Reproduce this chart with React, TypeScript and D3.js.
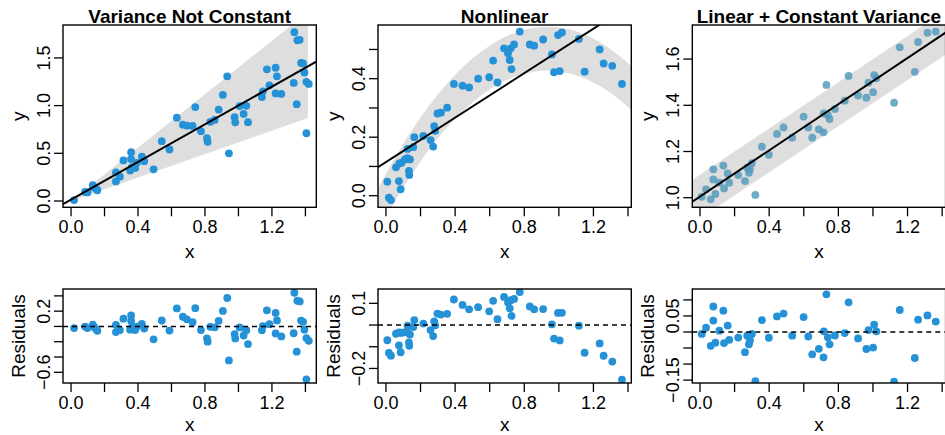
import * as d3 from "d3";

// ---- data ----
const p1X = [0.018, 0.084, 0.098, 0.13, 0.14, 0.154, 0.157, 0.268, 0.268, 0.292, 0.313, 0.359, 0.359, 0.353, 0.363, 0.383, 0.393, 0.423, 0.437, 0.493, 0.542, 0.588, 0.632, 0.668, 0.692, 0.726, 0.742, 0.776, 0.812, 0.816, 0.832, 0.858, 0.882, 0.907, 0.933, 0.943, 0.977, 0.981, 1.007, 1.031, 1.047, 1.057, 1.14, 1.146, 1.17, 1.185, 1.222, 1.23, 1.222, 1.256, 1.33, 1.334, 1.348, 1.352, 1.366, 1.374, 1.386, 1.394, 1.406, 1.42, 1.406];
const p1Y = [0.01, 0.095, 0.09, 0.165, 0.139, 0.122, 0.112, 0.3, 0.205, 0.255, 0.425, 0.512, 0.44, 0.32, 0.355, 0.345, 0.4, 0.465, 0.418, 0.332, 0.627, 0.54, 0.874, 0.8, 0.79, 0.787, 0.985, 0.732, 0.66, 0.62, 0.83, 0.85, 0.958, 1.112, 1.307, 0.5, 0.878, 0.825, 0.995, 0.913, 0.998, 0.826, 1.09, 1.15, 1.38, 1.213, 1.397, 1.307, 1.128, 1.123, 1.238, 1.77, 1.015, 1.685, 1.69, 1.447, 1.442, 1.347, 1.249, 1.227, 0.71];

const p2X = [0.008, 0.017, 0.029, 0.058, 0.075, 0.085, 0.077, 0.09, 0.11, 0.123, 0.139, 0.133, 0.135, 0.125, 0.158, 0.164, 0.216, 0.258, 0.273, 0.279, 0.285, 0.298, 0.318, 0.354, 0.393, 0.443, 0.481, 0.533, 0.597, 0.62, 0.645, 0.683, 0.706, 0.716, 0.726, 0.722, 0.741, 0.774, 0.832, 0.857, 0.909, 0.96, 0.972, 1.005, 0.995, 1.018, 1.116, 1.149, 1.236, 1.259, 1.309, 1.365];
const p2Y = [0.048, -0.007, -0.015, 0.097, 0.05, 0.022, 0.11, 0.113, 0.124, 0.128, 0.124, 0.085, 0.071, 0.16, 0.166, 0.2, 0.204, 0.19, 0.168, 0.238, 0.222, 0.281, 0.284, 0.301, 0.382, 0.376, 0.37, 0.4, 0.405, 0.462, 0.387, 0.504, 0.487, 0.464, 0.433, 0.504, 0.517, 0.561, 0.517, 0.513, 0.534, 0.483, 0.422, 0.426, 0.549, 0.558, 0.536, 0.424, 0.5, 0.452, 0.444, 0.382];

const p3X = [0.01, 0.035, 0.062, 0.077, 0.077, 0.089, 0.112, 0.135, 0.139, 0.16, 0.169, 0.221, 0.26, 0.273, 0.283, 0.289, 0.3, 0.32, 0.358, 0.398, 0.445, 0.483, 0.533, 0.599, 0.626, 0.649, 0.687, 0.714, 0.716, 0.731, 0.739, 0.749, 0.78, 0.837, 0.859, 0.914, 0.962, 0.974, 1.001, 1.007, 1.02, 1.122, 1.155, 1.242, 1.261, 1.315, 1.363];
const p3Y = [1.004, 1.036, 0.993, 1.123, 1.079, 1.016, 1.065, 1.139, 1.04, 1.105, 1.065, 1.098, 1.072, 1.13, 1.108, 1.123, 1.149, 1.012, 1.221, 1.186, 1.276, 1.304, 1.26, 1.351, 1.304, 1.26, 1.296, 1.283, 1.365, 1.488, 1.358, 1.341, 1.384, 1.42, 1.527, 1.442, 1.433, 1.498, 1.457, 1.531, 1.517, 1.411, 1.651, 1.545, 1.674, 1.714, 1.719];

const titles = ["Variance Not Constant", "Nonlinear", "Linear + Constant Variance"];
const fitIntercept = [0.014, 0.115, 1.005];
const fitSlope = [0.987, 0.38, 0.5];

// grey bands
const band1X = [0, 1.415];
const band1Lo = [0, 0.87];
const band1Hi = [0, 1.98];
const band2X = [-0.05, 0, 0.1, 0.2, 0.3, 0.4, 0.5, 0.6, 0.7, 0.8, 0.9, 1.0, 1.1, 1.2, 1.3, 1.4, 1.45];
const band2Lo = [-0.13, -0.075, 0.027, 0.117, 0.196, 0.263, 0.319, 0.363, 0.396, 0.417, 0.427, 0.425, 0.412, 0.387, 0.351, 0.303, 0.275];
const band2Hi = [0.02, 0.075, 0.177, 0.267, 0.346, 0.413, 0.469, 0.513, 0.546, 0.567, 0.577, 0.575, 0.562, 0.537, 0.501, 0.453, 0.425];
const band3X = [-0.05, 1.45];
const band3Lo = [0.885, 1.635];
const band3Hi = [1.075, 1.825];

const xTicks = [0, 0.2, 0.4, 0.6, 0.8, 1.0, 1.2, 1.4];
const xLabels = [0, 0.4, 0.8, 1.2];
const yTicksTop = [[0, 0.5, 1, 1.5], [0, 0.1, 0.2, 0.3, 0.4, 0.5], [1, 1.2, 1.4, 1.6]];
const yLabelsTop = [[0, 0.5, 1, 1.5], [0, 0.2, 0.4], [1, 1.2, 1.4, 1.6]];
const resTicks = [[-0.6, -0.4, -0.2, 0, 0.2, 0.4], [-0.2, -0.1, 0, 0.1], [-0.15, -0.1, -0.05, 0, 0.05, 0.1]];
const resLabels = [[-0.6, 0.2], [-0.2, 0.1], [-0.15, 0.05]];
const resFormat = [".1f", ".1f", ".2f"];

const xDomains = [[-0.048, 1.465], [-0.046, 1.419], [-0.0445, 1.42]];
const yDomainsTop = [[-0.066, 1.845], [-0.0397, 0.5836], [0.9584, 1.7476]];
const yDomainsRes = [[-0.74, 0.49], [-0.267, 0.166], [-0.159, 0.134]];

// layout
const W = 945, H = 435;
const boxLeft = [63, 378, 692.3];
const boxW = 253.3;
const topY = 25, topH = 182.3;
const resY = 289, resH = 94;

const FONT = "'Liberation Sans', Arial, Helvetica, sans-serif";
const BLUE = "#2592d8";
const STEEL = "#569BBD";
const GREY = "#dedede";
const R = 3.9;

function Axes({ x0, y0, w, h, xs, ys, yTicks, yLabels, yFmt, ylab, xlabDy, id, children }: any) {
  const f1 = d3.format(".1f");
  const fy = d3.format(yFmt);
  return (
    <g>
      <defs>
        <clipPath id={id}>
          <rect x={x0} y={y0} width={w} height={h} />
        </clipPath>
      </defs>
      <g clipPath={`url(#${id})`}>{children}</g>
      <rect x={x0} y={y0} width={w} height={h} fill="none" stroke="#000" strokeWidth={1.4} />
      {xTicks.map((t: number) => (
        <line key={"xt" + t} x1={xs(t)} x2={xs(t)} y1={y0 + h} y2={y0 + h + 9} stroke="#000" strokeWidth={1.3} />
      ))}
      {xLabels.map((t: number) => (
        <text key={"xl" + t} x={xs(t)} y={y0 + h + 25.5} textAnchor="middle" fontSize={18} fontFamily={FONT}>{f1(t)}</text>
      ))}
      <text x={x0 + w / 2} y={y0 + h + xlabDy} textAnchor="middle" fontSize={19} fontFamily={FONT}>x</text>
      {yTicks.map((t: number) => (
        <line key={"yt" + t} x1={x0 - 9} x2={x0} y1={ys(t)} y2={ys(t)} stroke="#000" strokeWidth={1.3} />
      ))}
      {yLabels.map((t: number) => (
        <text key={"yl" + t} transform={`translate(${x0 - 13},${ys(t)}) rotate(-90)`} textAnchor="middle" fontSize={18} fontFamily={FONT}>{fy(t)}</text>
      ))}
      <text transform={`translate(${x0 - 38},${y0 + h / 2}) rotate(-90)`} textAnchor="middle" fontSize={19} fontFamily={FONT}>{ylab}</text>
    </g>
  );
}

export default function App() {
  const sets = [
    { x: p1X, y: p1Y, bx: band1X, lo: band1Lo, hi: band1Hi, curve: d3.curveLinear },
    { x: p2X, y: p2Y, bx: band2X, lo: band2Lo, hi: band2Hi, curve: d3.curveNatural },
    { x: p3X, y: p3Y, bx: band3X, lo: band3Lo, hi: band3Hi, curve: d3.curveLinear },
  ];
  return (
    <svg width={W} height={H} style={{ position: "absolute", left: 0, top: 0, background: "#fff" }}>
      {sets.map((s, i) => {
        const x0 = boxLeft[i];
        const xs = d3.scaleLinear().domain(xDomains[i]).range([x0, x0 + boxW]);
        const ys = d3.scaleLinear().domain(yDomainsTop[i]).range([topY + topH, topY]);
        const yr = d3.scaleLinear().domain(yDomainsRes[i]).range([resY + resH, resY]);
        const area = d3.area<number>()
          .x((_, k) => xs(s.bx[k]))
          .y0((_, k) => ys(s.lo[k]))
          .y1((_, k) => ys(s.hi[k]))
          .curve(s.curve);
        const fit = (v: number) => fitIntercept[i] + fitSlope[i] * v;
        const [xa, xb] = xDomains[i];
        const resid = s.x.map((v, k) => s.y[k] - fit(v));
        return (
          <g key={i}>
            <text x={x0 + boxW / 2} y={22.5} textAnchor="middle" fontSize={19} fontWeight="bold" fontFamily={FONT}>{titles[i]}</text>
            <Axes id={"ct" + i} x0={x0} y0={topY} w={boxW} h={topH} xs={xs} ys={ys}
              yTicks={yTicksTop[i]} yLabels={yLabelsTop[i]} yFmt=".1f" ylab="y" xlabDy={50.5}>
              <path d={area(s.bx) || ""} fill={GREY} />
              {s.x.map((v, k) => (
                <circle key={k} cx={xs(v)} cy={ys(s.y[k])} r={R}
                  fill={i === 2 ? STEEL : BLUE} fillOpacity={i === 2 ? 0.85 : 1} />
              ))}
              <line x1={xs(xa)} x2={xs(xb)} y1={ys(fit(xa))} y2={ys(fit(xb))} stroke="#000" strokeWidth={2} />
            </Axes>
            <Axes id={"cr" + i} x0={x0} y0={resY} w={boxW} h={resH} xs={xs} ys={yr}
              yTicks={resTicks[i]} yLabels={resLabels[i]} yFmt={resFormat[i]} ylab="Residuals" xlabDy={48}>
              {s.x.map((v, k) => (
                <circle key={k} cx={xs(v)} cy={yr(resid[k])} r={R} fill={BLUE} />
              ))}
              <line x1={x0} x2={x0 + boxW} y1={yr(0)} y2={yr(0)} stroke="#000" strokeWidth={1.4} strokeDasharray="5,4" />
            </Axes>
          </g>
        );
      })}
    </svg>
  );
}
